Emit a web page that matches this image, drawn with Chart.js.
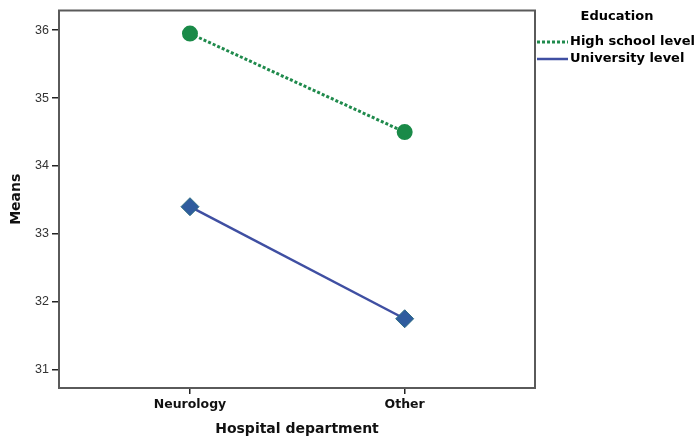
<!DOCTYPE html>
<html><head><meta charset="utf-8">
<script src="https://cdn.jsdelivr.net/npm/chart.js@4"></script>
<style>html,body{margin:0;padding:0;background:#fff}#wrap{width:699px;height:438px}</style>
</head><body><div id="wrap"><canvas id="c" width="699" height="438"></canvas></div>
<script>
const categories = ['Neurology', 'Other'];
const seriesNames = ['High school level', 'University level'];
const highSchool = [35.95, 34.5];
const university = [33.4, 31.75];
const yTicks = [31, 32, 33, 34, 35, 36];

const frame = {
  id: 'frame',
  afterDatasetsDraw(chart) {
    const a = chart.chartArea, ctx = chart.ctx;
    ctx.save();
    ctx.strokeStyle = '#5a5a5a'; ctx.lineWidth = 2;
    ctx.strokeRect(a.left, a.top, a.right - a.left, a.bottom - a.top);
    ctx.restore();
  },
  afterDraw(chart) {
    const ctx = chart.ctx;
    ctx.save();
    ctx.fillStyle = '#000';
    ctx.textBaseline = 'middle';
    ctx.textAlign = 'center';
    ctx.font = 'bold 13px "DejaVu Sans"';
    ctx.fillText('Education', 617, 17);
    ctx.textAlign = 'left';
    chart.data.datasets.forEach((ds, i) => {
      const y = 42 + i * 17;
      ctx.strokeStyle = ds.borderColor;
      ctx.lineWidth = ds.borderWidth;
      ctx.setLineDash(ds.borderDash || []);
      ctx.beginPath(); ctx.moveTo(537, y); ctx.lineTo(568, y); ctx.stroke();
      ctx.setLineDash([]);
      ctx.fillStyle = '#000';
      ctx.font = 'bold 13px "DejaVu Sans"';
      ctx.fillText(ds.label, 570, y);
    });
    ctx.restore();
  }
};

new Chart(document.getElementById('c'), {
  type: 'line',
  data: {
    datasets: [
      {
        label: seriesNames[0],
        data: highSchool.map((v, i) => ({x: i, y: v})),
        borderColor: '#1f8a4c', borderWidth: 3, borderDash: [3, 2],
        pointStyle: 'circle', pointRadius: 6.5, pointBackgroundColor: '#1a8a48', pointBorderColor: '#1a8a48',
        fill: false, tension: 0
      },
      {
        label: seriesNames[1],
        data: university.map((v, i) => ({x: i, y: v})),
        borderColor: '#3f4fa2', borderWidth: 2.5,
        pointStyle: 'rectRot', pointRadius: 9, pointBackgroundColor: '#2f5c9e', pointBorderColor: '#2c6b82', pointBorderWidth: 1,
        fill: false, tension: 0
      }
    ]
  },
  options: {
    responsive: false, animation: false,
    layout: {padding: {left: 0, right: 164, top: 6, bottom: 0}},
    plugins: {legend: {display: false}, tooltip: {enabled: false}},
    scales: {
      x: {
        type: 'linear', min: -0.61, max: 1.607,
        afterBuildTicks: s => { s.ticks = categories.map((c, i) => ({value: i})); },
        afterFit: s => { s.height = 50; },
        border: {display: true, color: '#5a5a5a', width: 2},
        grid: {drawOnChartArea: false, drawTicks: true, tickLength: 6, color: '#222', lineWidth: 1.5},
        ticks: {padding: 3, color: '#111', font: {family: 'DejaVu Sans', weight: 'bold', size: 12.5},
                callback: v => categories[v], maxRotation: 0},
        title: {display: true, text: 'Hospital department', color: '#111',
                font: {family: 'DejaVu Sans', weight: 'bold', size: 14}, padding: {top: 0, bottom: 0}}
      },
      y: {
        min: 30.73, max: 36.29,
        afterBuildTicks: s => { s.ticks = yTicks.map(v => ({value: v})); },
        afterFit: s => { s.width = 59; },
        border: {display: true, color: '#5a5a5a', width: 2},
        grid: {drawOnChartArea: false, drawTicks: true, tickLength: 7, color: '#222', lineWidth: 1.5},
        ticks: {padding: 3, color: '#333', font: {family: 'Liberation Sans', size: 12.5}},
        title: {display: true, text: 'Means', color: '#111',
                font: {family: 'DejaVu Sans', weight: 'bold', size: 14}, padding: {top: 8, bottom: 0}}
      }
    }
  },
  plugins: [frame]
});
</script></body></html>
